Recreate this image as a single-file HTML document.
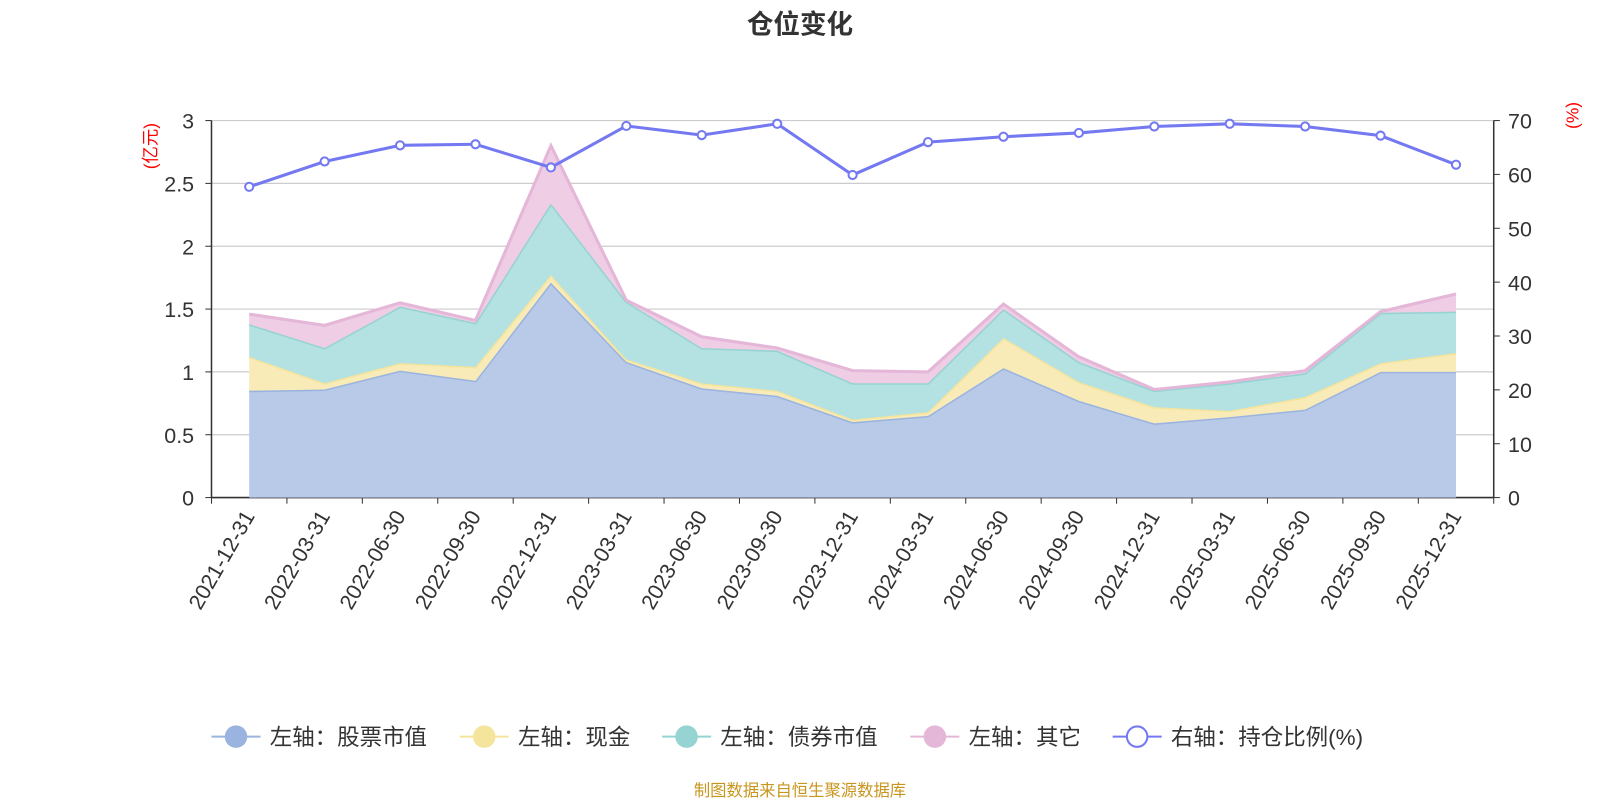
<!DOCTYPE html>
<html><head><meta charset="utf-8"><style>
html,body{margin:0;padding:0;background:#fff;}
svg{display:block;font-family:"Liberation Sans","Noto Sans CJK SC",sans-serif;}
</style></head><body>
<svg id="c" width="1600" height="800"><g id="root" transform="scale(1.0217)"></g></svg>
<script>
const categories=["2021-12-31","2022-03-31","2022-06-30","2022-09-30","2022-12-31","2023-03-31","2023-06-30","2023-09-30","2023-12-31","2024-03-31","2024-06-30","2024-09-30","2024-12-31","2025-03-31","2025-06-30","2025-09-30","2025-12-31"];
const stockValues=[0.85,0.86,1.01,0.93,1.71,1.08,0.87,0.81,0.60,0.65,1.03,0.77,0.59,0.64,0.70,1.00,1.00];
const cashValues=[0.27,0.05,0.06,0.11,0.06,0.02,0.04,0.04,0.02,0.03,0.24,0.15,0.13,0.05,0.10,0.07,0.15];
const bondValues=[0.26,0.28,0.45,0.35,0.57,0.46,0.28,0.32,0.29,0.23,0.23,0.16,0.13,0.22,0.19,0.40,0.33];
const otherValues=[0.08,0.18,0.03,0.02,0.46,0.01,0.09,0.02,0.10,0.09,0.04,0.04,0.01,0.01,0.02,0.01,0.14];
const ratioValues=[57.7,62.4,65.4,65.6,61.3,69.0,67.3,69.4,59.9,66.0,67.0,67.7,68.9,69.4,68.9,67.2,61.8];
const leftTicks=[0,0.5,1,1.5,2,2.5,3];
const rightTicks=[0,10,20,30,40,50,60,70];

const NS="http://www.w3.org/2000/svg";
const svg=document.getElementById('root');
function mk(tag,attrs,parent){const e=document.createElementNS(NS,tag);for(const k in attrs)e.setAttribute(k,attrs[k]);(parent||svg).appendChild(e);return e;}
const L=207,R=1462,T=118,B=487;
const band=(R-L)/categories.length;
const x=i=>L+band*(i+0.5);
const yL=v=>B-(v/3)*(B-T);
const yR=v=>B-(v/70)*(B-T);

let t=mk('text',{x:783,y:33,'text-anchor':'middle','font-size':26,'font-weight':'bold',fill:'#333'});
t.textContent='仓位变化';



leftTicks.forEach(v=>{
  const g=mk('line',{x1:L,x2:R,y1:yL(v),y2:yL(v),stroke:v===0?'#333':'#ccc','stroke-width':v===0?1.5:1.2});
  
  
  const tx=mk('text',{x:190,y:yL(v)+8,'text-anchor':'end','font-size':21,fill:'#333'});
  tx.textContent=v;
  
  
  mk('line',{x1:L-6,x2:L,y1:yL(v),y2:yL(v),stroke:'#333'});
});
rightTicks.forEach(v=>{
  const tx=mk('text',{x:1476,y:yR(v)+8,'font-size':21,fill:'#333'});
  tx.textContent=v;
  
  
  mk('line',{x1:R,x2:R+6,y1:yR(v),y2:yR(v),stroke:'#333'});
});
mk('line',{x1:L,x2:L,y1:T,y2:B,stroke:'#333','stroke-width':1.5});
mk('line',{x1:R,x2:R,y1:T,y2:B,stroke:'#333','stroke-width':1.5});
let u=mk('text',{x:153,y:143,'text-anchor':'middle','font-size':17,fill:'red',transform:'rotate(-90 153 143)'});
u.textContent='(亿元)';


u=mk('text',{x:1545,y:113,'text-anchor':'middle','font-size':17,fill:'red',transform:'rotate(-90 1545 113)'});
u.textContent='(%)';



for(let i=0;i<=categories.length;i++){mk('line',{x1:L+band*i,x2:L+band*i,y1:B,y2:B+6,stroke:'#333'});}
categories.forEach((c,i)=>{
  const tx=mk('text',{x:x(i)+6,y:B+18,'text-anchor':'end','font-size':21,fill:'#333',transform:`rotate(-60 ${x(i)+6} ${B+18})`});
  tx.textContent=c;
  
  
});

const series=[
 {name:'stock',vals:stockValues,line:'#9ab4df',fill:'#b8cae8'},
 {name:'cash',vals:cashValues,line:'#f5e49c',fill:'#f9ebb8'},
 {name:'bond',vals:bondValues,line:'#96d3d3',fill:'#b4e1e1'},
 {name:'other',vals:otherValues,line:'#e4b6d8',fill:'#efcde4'}
];
let base=categories.map(()=>0);
series.forEach(s=>{
  const top=base.map((b,i)=>b+s.vals[i]);
  const up=top.map((v,i)=>`${x(i)},${yL(v)}`);
  const down=base.map((v,i)=>`${x(i)},${yL(v)}`).reverse();
  const a=mk('polygon',{points:up.concat(down).join(' '),fill:s.fill});
  
  
  const l=mk('polyline',{points:up.join(' '),fill:'none',stroke:s.line,'stroke-width':3});
  
  
  base=top;
});
const rl=mk('polyline',{points:ratioValues.map((v,i)=>`${x(i)},${yR(v)}`).join(' '),fill:'none',stroke:'#7479f2','stroke-width':3});


ratioValues.forEach((v,i)=>{
  const p=mk('circle',{cx:x(i),cy:yR(v),r:4,fill:'#fff',stroke:'#7479f2','stroke-width':2});
  
  
});

const legend=[['左轴：股票市值','#9ab4df',false,207],['左轴：现金','#f5e49c',false,450],['左轴：债券市值','#96d3d3',false,648],['左轴：其它','#e4b6d8',false,891],['右轴：持仓比例(%)','#7479f2',true,1089]];
legend.forEach(([n,c,hollow,lx])=>{
  const g=mk('g',{});
  
  
  mk('line',{x1:lx,x2:lx+48,y1:721,y2:721,stroke:c,'stroke-width':2},g);
  mk('circle',{cx:lx+24,cy:721,r:hollow?10:11,fill:hollow?'#fff':c,stroke:c,'stroke-width':hollow?2:0},g);
  const tx=mk('text',{x:lx+57,y:729,'font-size':22,fill:'#333'},g);
  tx.textContent=n;
});
const f=mk('text',{x:783,y:779,'text-anchor':'middle','font-size':16,fill:'#c8961e'});
f.textContent='制图数据来自恒生聚源数据库';


</script>
</body></html>
